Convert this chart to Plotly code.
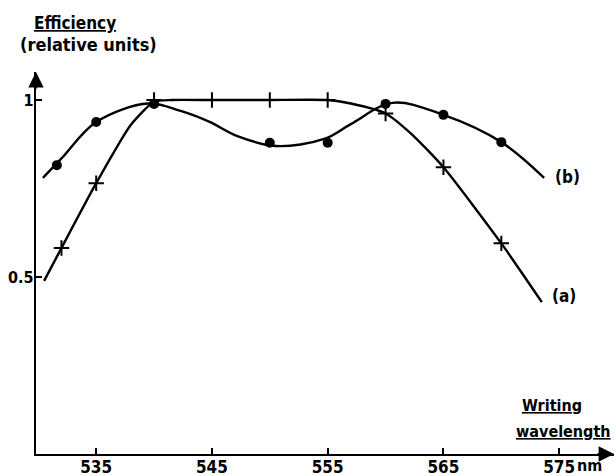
import plotly.graph_objects as go

# ---- data ----
# curve (a): measured points (crosses)
a_x = [532, 535, 540, 545, 550, 555, 560, 565, 570]
a_y = [0.582, 0.765, 1.0, 1.0, 1.0, 1.0, 0.962, 0.81, 0.595]
# curve (a): drawn smooth line
a_line_x = [530.5, 532, 535, 538, 540, 541.5, 545, 550, 555, 557, 560, 562.2, 565, 570, 573.5]
a_line_y = [0.489, 0.582, 0.765, 0.93, 0.995, 1.0, 1.0, 1.0, 1.0, 0.99, 0.962, 0.905, 0.81, 0.595, 0.429]

# curve (b): measured points (dots)
b_x = [531.6, 535, 540, 550, 555, 560, 565, 570]
b_y = [0.816, 0.938, 0.989, 0.879, 0.879, 0.989, 0.958, 0.881]
# curve (b): drawn smooth line
b_line_x = [530.4, 532, 535, 539.5, 542.3, 544.8, 547.2, 550.5, 554.7, 557, 560.6, 565, 570, 573.7]
b_line_y = [0.780, 0.835, 0.938, 0.99, 0.969, 0.938, 0.898, 0.870, 0.890, 0.932, 0.992, 0.958, 0.881, 0.780]

x_ticks = [535, 545, 555, 565, 575]
x_tick_text = ["535", "545", "555", "565", "575"]
y_ticks = [0.5, 1.0]
y_tick_text = ["0.5", "1"]

FONT = "DejaVu Sans Condensed, DejaVu Sans, sans-serif"
W, H = 616, 476
L, R, T, B = 36, 2, 72, 22
PW, PH = W - L - R, H - T - B


def px(xp):
    return (xp - L) / PW


def py(yp):
    return (H - B - yp) / PH


fig = go.Figure()
fig.add_trace(go.Scatter(x=a_line_x, y=a_line_y, mode="lines",
                         line=dict(color="black", width=2.4, shape="spline", smoothing=0.6),
                         hoverinfo="skip"))
fig.add_trace(go.Scatter(x=b_line_x, y=b_line_y, mode="lines",
                         line=dict(color="black", width=2.4, shape="spline", smoothing=1.0),
                         hoverinfo="skip"))
fig.add_trace(go.Scatter(x=a_x, y=a_y, mode="markers",
                         marker=dict(symbol="cross-thin", size=11, color="black",
                                     line=dict(color="black", width=2))))
fig.add_trace(go.Scatter(x=b_x, y=b_y, mode="markers",
                         marker=dict(symbol="circle", size=10, color="black")))

x_lo = 529.8
x_hi = x_lo + PW / 11.575
y_hi = PH / 354.0

fig.update_layout(
    width=W, height=H,
    margin=dict(l=L, r=R, t=T, b=B, pad=0, autoexpand=False),
    paper_bgcolor="white", plot_bgcolor="white",
    showlegend=False,
    font=dict(family=FONT, size=17, color="black", weight="bold"),
    xaxis=dict(range=[x_lo, x_hi], showgrid=False, zeroline=False, automargin=False,
               showline=True, linecolor="black", linewidth=2.4,
               tickvals=x_ticks, ticktext=x_tick_text,
               ticks="inside", ticklen=6, tickwidth=1.6, tickcolor="black",
               ticklabelstandoff=-4,
               tickfont=dict(family=FONT, size=17, color="black", weight="bold")),
    yaxis=dict(range=[0, y_hi], showgrid=False, zeroline=False, automargin=False,
               showline=True, linecolor="black", linewidth=2.4,
               tickvals=y_ticks, ticktext=y_tick_text,
               ticks="inside", ticklen=6, tickwidth=1.6, tickcolor="black",
               ticklabelstandoff=-3,
               tickfont=dict(family=FONT, size=16, color="black", weight="bold")),
)

# axis arrowheads
fig.add_annotation(x=0, y=1, xref="paper", yref="paper", ax=0, ay=18, text="",
                   showarrow=True, arrowhead=2, arrowsize=1.4, arrowwidth=2.2,
                   arrowcolor="black")
fig.add_annotation(x=1, y=0, xref="paper", yref="paper", ax=-18, ay=0, text="",
                   showarrow=True, arrowhead=2, arrowsize=1.4, arrowwidth=2.2,
                   arrowcolor="black")


def label(text, xp, yp, anchor="left", size=17):
    fig.add_annotation(x=px(xp), y=py(yp), xref="paper", yref="paper", text=text,
                       showarrow=False, xanchor=anchor, yanchor="middle",
                       font=dict(family=FONT, size=size, color="black", weight="bold"))


label("<u>Efficiency</u>", 32, 23)
label("(relative units)", 18, 45, size=18)
label("<u>Writing</u>", 584, 405, anchor="right", size=16)
label("<u>wavelength</u>", 613, 431, anchor="right", size=16)
label("(b)", 553, 177)
label("(a)", 550, 296)
label("nm", 575, 466, size=16)

fig.write_html(
    "out.html",
    config={"displayModeBar": False},
    post_script="document.body.style.margin='0px';"
                "document.documentElement.style.overflow='hidden';",
)
